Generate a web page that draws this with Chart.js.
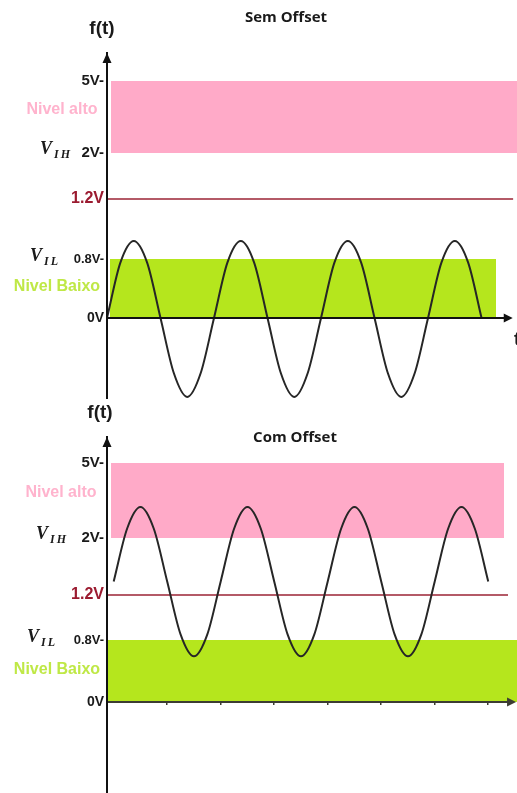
<!DOCTYPE html>
<html>
<head>
<meta charset="utf-8">
<title>Níveis lógicos: sem offset e com offset</title>
<script src="https://cdn.jsdelivr.net/npm/chart.js@4.4.1/dist/chart.umd.min.js"></script>
<style>
  html, body { margin: 0; padding: 0; background: #ffffff; }
  body { width: 517px; height: 793px; position: relative; overflow: hidden; }
  canvas { position: absolute; left: 0; display: block; }
  #semCanvas { top: 0; }
  #comCanvas { top: 400px; }
</style>
</head>
<body>
<canvas id="semCanvas" width="517" height="400"></canvas>
<canvas id="comCanvas" width="517" height="393"></canvas>
<script>
// ---- Voltage levels marked on the f(t) axis ----
const levelValues = [0, 0.8, 1.2, 2, 5];
const levelLabels = ['0V', '0.8V-', '1.2V', '2V-', '5V-'];
const thresholdVolts = 1.2;
const highBand = [2, 5];     // Nivel alto
const lowBand = [0, 0.8];    // Nivel Baixo

// ---- Time axis: one period of the signal spans 8 time units ----
const semTime = [0, 1, 2, 3, 4, 5, 6, 7, 8, 9, 10, 11, 12, 13, 14, 15, 16, 17, 18, 19, 20, 21, 22, 23, 24, 25, 26, 27, 28];
const semSignal = [0, 0.75, 0.92, 0.75, 0, -0.75, -1.07, -0.75,
                   0, 0.75, 0.92, 0.75, 0, -0.75, -1.07, -0.75,
                   0, 0.75, 0.92, 0.75, 0, -0.75, -1.07, -0.75,
                   0, 0.75, 0.92, 0.75, 0];

const comTime = [0, 1, 2, 3, 4, 5, 6, 7, 8, 9, 10, 11, 12, 13, 14, 15, 16, 17, 18, 19, 20, 21, 22, 23, 24, 25, 26, 27, 28];
const comSignal = [1.39, 2.37, 3.24, 2.37, 1.39, 0.85, 0.59, 0.85,
                   1.39, 2.37, 3.24, 2.37, 1.39, 0.85, 0.59, 0.85,
                   1.39, 2.37, 3.24, 2.37, 1.39, 0.85, 0.59, 0.85,
                   1.39, 2.37, 3.24, 2.37, 1.39];
const comTickTimes = [4, 8, 12, 16, 20, 24, 28];

// Time spans of the shaded bands and the threshold line
const semHighSpan = [0.3, 30.65];
const semLowSpan = [0.22, 29.08];
const semThresholdSpan = [0, 30.36];
const comHighSpan = [-0.2, 29.18];
const comLowSpan = [-0.5, 30.15];
const comThresholdSpan = [-0.5, 29.48];

// ---- Layout of each panel ----
// The f(t) axis is schematic: each level sits at a fixed fraction of the plot height.
const LEVEL_LAYOUT = {
  semCanvas: [0.2319, 0.4029, 0.5768, 0.7101, 0.9188],
  comCanvas: [0.2556, 0.4298, 0.5562, 0.7163, 0.9270]
};

const PANEL = {
  semCanvas: {
    title: 'Sem Offset', titleX: 286, titleY: 18,
    ftX: 102, ftY: 29,
    xMin: 0, xMax: 30.65, arrowTip: 30.33,
    padTop: 53, padBottom: 2,
    vihX: 40, vilX: 30, altoX: 62, baixoX: 57,
    axisColor: '#111111', showT: true
  },
  comCanvas: {
    title: 'Com Offset', titleX: 295, titleY: 38,
    ftX: 100, ftY: 13,
    xMin: -0.5, xMax: 30.15, arrowTip: 30.08,
    padTop: 37, padBottom: 0,
    vihX: 36, vilX: 27, altoX: 61, baixoX: 57,
    axisColor: '#3c3c32', showT: false
  }
};

const COLORS = {
  high: '#ffaac8',
  low: '#b5e61d',
  highText: '#ffb3cd',
  lowText: '#bfe846',
  threshold: '#9b2335',
  thresholdText: '#9b1b30',
  signal: '#262626',
  text: '#1a1a1a'
};

const SANS = '"Liberation Sans", Arial, sans-serif';
const SERIF = '"Liberation Serif", "Times New Roman", serif';
const tickFontSize = { 0: 14, 0.8: 13, 1.2: 16, 2: 15, 5: 15 };

// Linear scale whose values map piecewise onto the schematic level positions
class LevelScale extends Chart.LinearScale {
  static id = 'level';
  static defaults = {};
  _fractions() { return LEVEL_LAYOUT[this.chart.canvas.id]; }
  _segment(v) {
    const xs = levelValues;
    if (v <= xs[0]) return 0;
    if (v >= xs[xs.length - 1]) return xs.length - 2;
    let i = 0;
    while (v > xs[i + 1]) i++;
    return i;
  }
  _toDecimal(v) {
    const xs = levelValues, fs = this._fractions();
    const i = this._segment(v);
    const t = (v - xs[i]) / (xs[i + 1] - xs[i]);
    return fs[i] + t * (fs[i + 1] - fs[i]);
  }
  _fromDecimal(d) {
    const xs = levelValues, fs = this._fractions();
    let i = 0;
    if (d >= fs[fs.length - 1]) i = fs.length - 2;
    else if (d > fs[0]) { while (d > fs[i + 1]) i++; }
    const t = (d - fs[i]) / (fs[i + 1] - fs[i]);
    return xs[i] + t * (xs[i + 1] - xs[i]);
  }
  getPixelForValue(value) {
    if (value === null || value === undefined || isNaN(value)) return NaN;
    return this.getPixelForDecimal(this._toDecimal(+value));
  }
  getValueForPixel(pixel) {
    return this._fromDecimal(this.getDecimalForPixel(pixel));
  }
}
Chart.register(LevelScale);

function pts(times, values) {
  return times.map((t, i) => ({ x: t, y: values[i] }));
}
function flat(span, value) {
  return [{ x: span[0], y: value }, { x: span[1], y: value }];
}

function arrowHead(ctx, tipX, tipY, dir, len, half, color) {
  ctx.save();
  ctx.fillStyle = color;
  ctx.beginPath();
  if (dir === 'up') {
    ctx.moveTo(tipX, tipY);
    ctx.lineTo(tipX - half, tipY + len);
    ctx.lineTo(tipX + half, tipY + len);
  } else {
    ctx.moveTo(tipX, tipY);
    ctx.lineTo(tipX - len, tipY - half);
    ctx.lineTo(tipX - len, tipY + half);
  }
  ctx.closePath();
  ctx.fill();
  ctx.restore();
}

function subscriptLabel(ctx, x, base, main, sub) {
  ctx.save();
  ctx.fillStyle = COLORS.text;
  ctx.textAlign = 'left';
  ctx.textBaseline = 'alphabetic';
  ctx.font = 'italic bold 18px ' + SERIF;
  ctx.fillText(main, x, base);
  const w = ctx.measureText(main).width;
  ctx.font = 'italic bold 12px ' + SERIF;
  ctx.letterSpacing = '2px';
  ctx.fillText(sub, x + w + 2, base + 4);
  ctx.restore();
}

// Axes with arrowheads, level annotations and panel titles
const decorPlugin = {
  id: 'decor',
  afterDatasetsDraw(chart) {
    const p = PANEL[chart.canvas.id];
    const { ctx, chartArea: a } = chart;
    const x = chart.scales.x, y = chart.scales.y;
    const y0 = y.getPixelForValue(0);
    const tip = x.getPixelForValue(p.arrowTip);

    // time axis with arrow
    ctx.save();
    ctx.strokeStyle = p.axisColor;
    ctx.lineWidth = 2;
    ctx.beginPath();
    ctx.moveTo(a.left, y0);
    ctx.lineTo(tip - 6, y0);
    ctx.stroke();
    ctx.restore();
    arrowHead(ctx, tip, y0, 'right', 9, 4.5, p.axisColor);

    // arrow on top of the f(t) axis
    arrowHead(ctx, a.left, a.top, 'up', 10, 4.5, '#111111');
  },
  afterDraw(chart) {
    const p = PANEL[chart.canvas.id];
    const { ctx } = chart;
    const y = chart.scales.y;

    ctx.save();
    ctx.textBaseline = 'middle';

    // panel title
    ctx.fillStyle = COLORS.text;
    ctx.textAlign = 'center';
    ctx.font = 'bold 15px "Open Sans", ' + SANS;
    ctx.fillText(p.title, p.titleX, p.titleY);

    // f(t) axis name
    ctx.font = 'bold 19px ' + SANS;
    ctx.fillText('f(t)', p.ftX, p.ftY);

    if (p.showT) {
      ctx.textAlign = 'left';
      ctx.font = 'bold 18px ' + SANS;
      ctx.fillText('t', 514, y.getPixelForValue(0) + 22);
    }

    // band names
    ctx.textAlign = 'center';
    ctx.font = 'bold 16px ' + SANS;
    ctx.fillStyle = COLORS.highText;
    ctx.fillText('Nivel alto', p.altoX, y.getPixelForValue(3.8));
    ctx.fillStyle = COLORS.lowText;
    ctx.fillText('Nivel Baixo', p.baixoX, y.getPixelForValue(0.42));
    ctx.restore();

    // input thresholds
    subscriptLabel(ctx, p.vihX, y.getPixelForValue(highBand[0]) + 1, 'V', 'IH');
    subscriptLabel(ctx, p.vilX, y.getPixelForValue(lowBand[1]) + 2, 'V', 'IL');
  }
};

function buildChart(id, time, signal, highSpan, lowSpan, thresholdSpan, tickTimes) {
  const p = PANEL[id];
  return new Chart(document.getElementById(id), {
    type: 'line',
    data: {
      datasets: [
        {
          label: 'f(t)',
          data: pts(time, signal),
          borderColor: COLORS.signal,
          borderWidth: 2,
          pointRadius: 0,
          fill: false,
          cubicInterpolationMode: 'monotone'
        },
        {
          label: '1.2V',
          data: flat(thresholdSpan, thresholdVolts),
          borderColor: COLORS.threshold,
          borderWidth: 1.5,
          pointRadius: 0,
          fill: false
        },
        {
          label: 'Nivel alto',
          data: flat(highSpan, highBand[1]),
          borderColor: 'rgba(0,0,0,0)',
          borderWidth: 0,
          pointRadius: 0,
          backgroundColor: COLORS.high,
          fill: { value: highBand[0] }
        },
        {
          label: 'Nivel Baixo',
          data: flat(lowSpan, lowBand[1]),
          borderColor: 'rgba(0,0,0,0)',
          borderWidth: 0,
          pointRadius: 0,
          backgroundColor: COLORS.low,
          fill: { value: lowBand[0] }
        }
      ]
    },
    options: {
      responsive: false,
      animation: false,
      devicePixelRatio: 1,
      layout: { padding: { top: p.padTop, bottom: p.padBottom, left: 0, right: 0 } },
      plugins: { legend: { display: false }, tooltip: { enabled: false }, title: { display: false } },
      events: [],
      scales: {
        x: {
          type: 'linear',
          min: p.xMin,
          max: p.xMax,
          position: { y: 0 },
          border: { display: false },
          grid: {
            display: !!tickTimes,
            drawOnChartArea: false,
            drawTicks: true,
            tickLength: 3,
            color: p.axisColor,
            lineWidth: 1.5
          },
          ticks: { display: false },
          afterBuildTicks: (s) => {
            s.ticks = (tickTimes || []).map(v => ({ value: v }));
          },
          afterFit: (s) => {
            s.height = 0;
            s.paddingLeft = 0; s.paddingRight = 0; s.paddingTop = 0; s.paddingBottom = 0;
          }
        },
        y: {
          type: 'level',
          position: 'left',
          min: -1.2,
          max: 6,
          grid: { display: false, drawTicks: false },
          border: { display: true, color: '#111111', width: 2, z: 1 },
          afterBuildTicks: (s) => {
            s.ticks = levelValues.map(v => ({ value: v }));
          },
          afterFit: (s) => {
            s.width = 107;
            s.paddingTop = 0; s.paddingBottom = 0; s.paddingLeft = 0; s.paddingRight = 0;
          },
          ticks: {
            autoSkip: false,
            padding: 3,
            callback: (v) => levelLabels[levelValues.indexOf(v)],
            color: (c) => (c.tick && c.tick.value === thresholdVolts) ? COLORS.thresholdText : COLORS.text,
            font: (c) => ({
              family: SANS,
              weight: 'bold',
              size: c.tick ? (tickFontSize[c.tick.value] || 14) : 14
            })
          }
        }
      }
    },
    plugins: [decorPlugin]
  });
}

buildChart('semCanvas', semTime, semSignal, semHighSpan, semLowSpan, semThresholdSpan, null);
buildChart('comCanvas', comTime, comSignal, comHighSpan, comLowSpan, comThresholdSpan, comTickTimes);
</script>
</body>
</html>
